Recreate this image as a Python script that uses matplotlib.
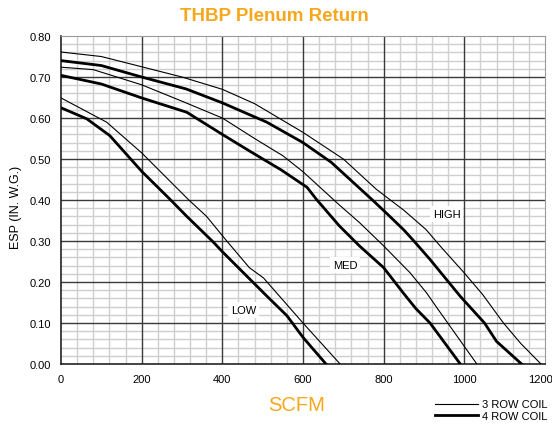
import numpy as np
import matplotlib
matplotlib.use("Agg")
import matplotlib.pyplot as plt
import matplotlib.transforms as mtransforms
from matplotlib.lines import Line2D

plt.rcParams['font.family'] = ['Liberation Sans', 'DejaVu Sans']

ORANGE = "#F5A81C"

# curves: (scfm, esp)
high3_x = [0, 100, 200, 300, 400, 480, 600, 700, 782, 850, 905, 947, 1000, 1045, 1097, 1140, 1190]
high3_y = [0.761, 0.750, 0.725, 0.700, 0.670, 0.635, 0.565, 0.500, 0.426, 0.375, 0.328, 0.280, 0.222, 0.170, 0.100, 0.050, 0.0]
high4_x = [0, 100, 200, 310, 400, 470, 510, 600, 670, 720, 770, 810, 850, 875, 915, 950, 990, 1050, 1080, 1142]
high4_y = [0.740, 0.728, 0.700, 0.671, 0.637, 0.607, 0.590, 0.540, 0.492, 0.447, 0.402, 0.365, 0.327, 0.300, 0.255, 0.213, 0.165, 0.100, 0.055, 0.0]
med3_x = [0, 80, 200, 300, 400, 480, 550, 600, 690, 740, 800, 865, 906, 930, 1031]
med3_y = [0.724, 0.718, 0.681, 0.641, 0.600, 0.550, 0.508, 0.469, 0.388, 0.345, 0.288, 0.223, 0.174, 0.140, 0.0]
med4_x = [0, 100, 200, 312, 400, 470, 545, 610, 633, 690, 740, 800, 848, 880, 915, 990]
med4_y = [0.704, 0.683, 0.649, 0.614, 0.560, 0.518, 0.474, 0.431, 0.402, 0.337, 0.288, 0.235, 0.174, 0.135, 0.100, 0.0]
low3_x = [0, 113, 200, 317, 361, 411, 467, 502, 600, 692]
low3_y = [0.649, 0.590, 0.515, 0.400, 0.360, 0.300, 0.235, 0.210, 0.100, 0.0]
low4_x = [0, 64, 121, 200, 270, 312, 378, 400, 460, 510, 560, 600, 657]
low4_y = [0.625, 0.598, 0.557, 0.470, 0.402, 0.360, 0.297, 0.274, 0.215, 0.166, 0.118, 0.065, 0.0]

speed_labels = ["HIGH", "MED", "LOW"]
label_x = [956, 704, 453]
label_y = [0.366, 0.241, 0.132]

x_major = np.arange(0, 1201, 200)
y_major = np.arange(0, 0.81, 0.1)

fig = plt.figure(figsize=(5.52, 4.27), dpi=100)
ax = fig.add_axes([0.1105, 0.1452, 0.8768, 0.7681])

ax.set_xlim(0, 1200)
ax.set_ylim(0, 0.8)
ax.set_xticks(x_major)
ax.set_xticks(np.arange(0, 1201, 40), minor=True)
ax.set_yticks(y_major)
ax.set_yticks(np.arange(0, 0.81, 0.02), minor=True)
ax.set_yticklabels([f"{v:.2f}" for v in y_major])
ax.grid(which='minor', color='#cfcfcf', lw=1.0)
ax.set_axisbelow(True)
for xv in x_major[1:-1]:
    ax.axvline(xv, color='#3a3a3a', lw=1.0, zorder=1)
for yv in y_major[1:-1]:
    ax.axhline(yv, color='#3a3a3a', lw=1.0, zorder=1)
ax.tick_params(which='both', length=0, labelsize=8, pad=7)

# last x label sits a little left of its tick, as in the original
offset = mtransforms.ScaledTranslation(-4.5 / 100, 0, fig.dpi_scale_trans)
lbl = ax.get_xticklabels()[-1]
lbl.set_transform(lbl.get_transform() + offset)

for s in ['top', 'right']:
    ax.spines[s].set_color('#9a9a9a')
for s in ['left', 'bottom']:
    ax.spines[s].set_color('#222222')
    ax.spines[s].set_linewidth(1.2)

for xs, ys in [(high3_x, high3_y), (med3_x, med3_y), (low3_x, low3_y)]:
    ax.plot(xs, ys, color='black', lw=0.8, zorder=3)
for xs, ys in [(high4_x, high4_y), (med4_x, med4_y), (low4_x, low4_y)]:
    ax.plot(xs, ys, color='black', lw=2.0, zorder=3)

for lab, lx, ly in zip(speed_labels, label_x, label_y):
    ax.text(lx, ly, lab, fontsize=8, ha='center', va='center', zorder=4,
            bbox=dict(facecolor='white', edgecolor='none', pad=2))

ax.set_ylabel("ESP (IN. W.G.)", fontsize=9)
ax.yaxis.set_label_coords(-0.080, 0.48)

fig.text(0.497, 0.962, "THBP Plenum Return", color=ORANGE, fontsize=13.5,
         fontweight='bold', ha='center', va='center',
         family=['Liberation Sans Narrow', 'Liberation Sans', 'DejaVu Sans'])
fig.text(0.538, 0.05, "SCFM", color=ORANGE, fontsize=14.5, ha='center', va='center')

handles = [Line2D([], [], color='black', lw=0.8),
           Line2D([], [], color='black', lw=2.0)]
fig.legend(handles, ["3 ROW COIL", "4 ROW COIL"], loc='lower right',
           bbox_to_anchor=(1.01, -0.012), frameon=False, fontsize=8,
           handlelength=3.8, handletextpad=0.4, labelspacing=0.15)

fig.savefig("out.png", dpi=100)
